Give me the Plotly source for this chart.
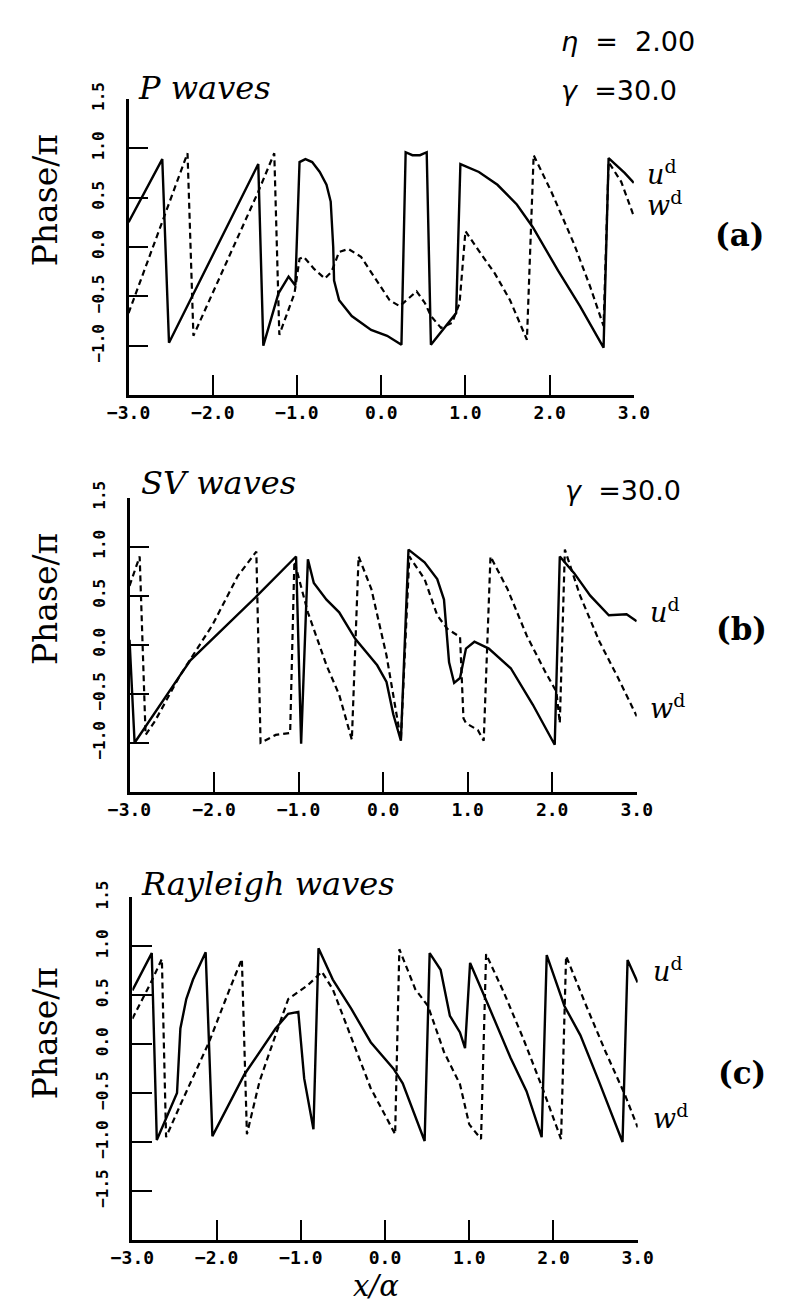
import plotly.graph_objects as go

# ---------------- data ----------------
x_ticks = [-3.0, -2.0, -1.0, 0.0, 1.0, 2.0, 3.0]
x_tick_labels = ["−3.0", "−2.0", "−1.0", "0.0", "1.0", "2.0", "3.0"]
y_ticks_ab = [-1.0, -0.5, 0.0, 0.5, 1.0, 1.5]
y_tick_labels_ab = ["−1.0", "−0.5", "0.0", "0.5", "1.0", "1.5"]
y_ticks_c = [-1.5, -1.0, -0.5, 0.0, 0.5, 1.0, 1.5]
y_tick_labels_c = ["−1.5", "−1.0", "−0.5", "0.0", "0.5", "1.0", "1.5"]

# Panel (a) P waves
pa_u_x = [-3.0, -2.60, -2.52, -1.46, -1.40, -1.22, -1.10, -1.02, -0.97, -0.90, -0.82, -0.73, -0.65, -0.60,
          -0.57, -0.56, -0.50, -0.35, -0.12, 0.07, 0.24, 0.29, 0.37, 0.46, 0.54, 0.59, 0.89, 0.94, 1.16,
          1.38, 1.61, 1.80, 2.10, 2.36, 2.64, 2.70, 2.89, 3.0]
pa_u_y = [0.25, 0.89, -0.97, 0.84, -1.00, -0.47, -0.30, -0.39, 0.86, 0.89, 0.86, 0.76, 0.63, 0.46,
          0.0, -0.34, -0.54, -0.70, -0.84, -0.90, -0.99, 0.96, 0.93, 0.93, 0.96, -0.99, -0.67, 0.84, 0.76,
          0.63, 0.43, 0.20, -0.24, -0.60, -1.02, 0.90, 0.75, 0.65]
pa_w_x = [-3.0, -2.30, -2.23, -1.46, -1.27, -1.21, -1.03, -0.97, -0.92, -0.80, -0.67,
          -0.59, -0.50, -0.39, -0.24, -0.05, 0.10, 0.22, 0.42, 0.52, 0.59, 0.71, 0.84, 0.93, 1.0, 1.16,
          1.35, 1.53, 1.73, 1.81, 2.02, 2.29, 2.48, 2.64, 2.70, 2.85, 3.0]
pa_w_y = [-0.67, 0.95, -0.90, 0.56, 0.95, -0.89, -0.47, -0.12, -0.10, -0.22, -0.32,
          -0.25, -0.05, -0.02, -0.10, -0.34, -0.54, -0.60, -0.45, -0.57, -0.70, -0.82, -0.77, -0.57, 0.16, -0.04,
          -0.27, -0.54, -0.94, 0.93, 0.56, 0.03, -0.40, -0.80, 0.86, 0.66, 0.31]

# Panel (b) SV waves
pb_u_x = [-3.0, -2.94, -2.40, -2.28, -1.49, -1.03, -0.97, -0.89, -0.82, -0.67, -0.52, -0.33, -0.07, 0.04,
          0.12, 0.21, 0.30, 0.49, 0.64, 0.72, 0.78, 0.84, 0.91, 0.98, 1.08, 1.25, 1.51, 1.77, 2.03, 2.09,
          2.26, 2.45, 2.67, 2.88, 3.0]
pb_u_y = [0.05, -1.0, -0.31, -0.16, 0.50, 0.90, -1.01, 0.87, 0.63, 0.46, 0.33, 0.06, -0.21, -0.38,
          -0.71, -0.98, 0.97, 0.84, 0.67, 0.46, -0.18, -0.39, -0.34, -0.04, 0.03, -0.04, -0.24, -0.61, -1.02, 0.90,
          0.73, 0.50, 0.30, 0.31, 0.24]
pb_w_x = [-3.0, -2.88, -2.81, -2.70, -2.40, -2.02, -1.72, -1.50, -1.45, -1.27, -1.10, -1.05, -0.89, -0.67,
          -0.52, -0.37, -0.29, -0.14, 0.04, 0.21, 0.31, 0.49, 0.64, 0.76, 0.91, 0.95, 0.98, 1.12, 1.19, 1.27,
          1.47, 1.70, 1.92, 2.05, 2.09, 2.15, 2.33, 2.56, 2.78, 3.0]
pb_w_y = [0.60, 0.90, -0.92, -0.78, -0.31, 0.20, 0.70, 0.95, -1.0, -0.92, -0.90, 0.85, 0.33, -0.21,
          -0.51, -0.97, 0.90, 0.57, -0.11, -0.97, 0.90, 0.67, 0.30, 0.16, 0.08, -0.75, -0.80, -0.87, -0.98, 0.90,
          0.57, 0.09, -0.28, -0.48, -0.80, 0.97, 0.50, 0.03, -0.34, -0.73]

# Panel (c) Rayleigh waves
pc_u_x = [-3.0, -2.77, -2.71, -2.47, -2.43, -2.36, -2.28, -2.13, -2.05, -1.67, -1.30, -1.15, -1.03, -0.96,
          -0.85, -0.79, -0.62, -0.40, -0.17, 0.10, 0.21, 0.36, 0.47, 0.53, 0.66, 0.77, 0.89, 0.95, 1.01,
          1.23, 1.49, 1.68, 1.86, 1.92, 2.13, 2.32, 2.54, 2.82, 2.88, 3.0]
pc_u_y = [0.55, 0.93, -0.98, -0.50, 0.16, 0.46, 0.66, 0.94, -0.94, -0.31, 0.16, 0.31, 0.33, -0.35,
          -0.87, 0.98, 0.66, 0.36, 0.02, -0.25, -0.40, -0.75, -0.99, 0.93, 0.76, 0.29, 0.12, -0.04, 0.83,
          0.39, -0.14, -0.48, -0.95, 0.91, 0.39, 0.09, -0.38, -1.0, 0.86, 0.63]
pc_w_x = [-3.0, -2.78, -2.65, -2.60, -2.43, -2.09, -1.86, -1.70, -1.64, -1.49, -1.37, -1.15, -0.92, -0.75,
          -0.62, -0.40, -0.17, 0.12, 0.17, 0.36, 0.51, 0.70, 0.89, 1.0, 1.14, 1.20, 1.41, 1.64, 1.87, 2.09,
          2.15, 2.39, 2.62, 2.85, 3.0]
pc_w_y = [0.26, 0.63, 0.87, -0.95, -0.62, 0.02, 0.53, 0.87, -0.92, -0.38, -0.08, 0.46, 0.60, 0.74,
          0.56, 0.06, -0.45, -0.92, 0.97, 0.56, 0.39, -0.08, -0.41, -0.82, -0.97, 0.92, 0.53, 0.06, -0.45, -0.97,
          0.90, 0.39, -0.08, -0.52, -0.85]

panel_titles = ["P waves", "SV waves", "Rayleigh waves"]
panel_letters = ["(a)", "(b)", "(c)"]
y_title = "Phase/π"
x_title = "x/α"

# ---------------- layout helpers ----------------
W, H = 785, 1304
def fx(p):
    return p / W
def fy(p):
    return 1 - p / H

panels = [
    dict(u=(pa_u_x, pa_u_y), w=(pa_w_x, pa_w_y), xd=(112, 643), yd=(83, 383), yr=(-1.5, 1.5),
         yt=(y_ticks_ab, y_tick_labels_ab)),
    dict(u=(pb_u_x, pb_u_y), w=(pb_w_x, pb_w_y), xd=(113, 646), yd=(487, 785), yr=(-1.5, 1.5),
         yt=(y_ticks_ab, y_tick_labels_ab)),
    dict(u=(pc_u_x, pc_u_y), w=(pc_w_x, pc_w_y), xd=(116, 647), yd=(892, 1239), yr=(-2.0, 1.5),
         yt=(y_ticks_c, y_tick_labels_c)),
]

fig = go.Figure()
xtickfont = dict(family="DejaVu Sans Mono", size=18, color="black", weight="bold")
ytickfont = dict(family="DejaVu Sans Mono", size=16, color="black", weight="bold")

for i, p in enumerate(panels):
    sfx = "" if i == 0 else str(i + 1)
    xa, ya = "x" + sfx, "y" + sfx
    fig.add_trace(go.Scatter(x=p["u"][0], y=p["u"][1], mode="lines", xaxis=xa, yaxis=ya,
                             line=dict(color="black", width=2.4), showlegend=False))
    fig.add_trace(go.Scatter(x=p["w"][0], y=p["w"][1], mode="lines", xaxis=xa, yaxis=ya,
                             line=dict(color="black", width=2.2, dash="6px,4px"), showlegend=False))
    xaxis = dict(domain=[fx(p["xd"][0]), fx(p["xd"][1])], range=[-3.0, 3.0], anchor=ya,
                 showline=True, linecolor="black", linewidth=2.5, mirror=False,
                 ticks="inside", ticklen=20, tickwidth=2, tickcolor="black",
                 tickvals=x_ticks, ticktext=x_tick_labels, tickfont=xtickfont,
                 showgrid=False, zeroline=False, ticklabelstandoff=0)
    yaxis = dict(domain=[fy(p["yd"][1]), fy(p["yd"][0])], range=list(p["yr"]), anchor=xa,
                 showline=True, linecolor="black", linewidth=2.5, mirror=False,
                 ticks="inside", ticklen=20, tickwidth=2, tickcolor="black",
                 tickvals=p["yt"][0], ticktext=p["yt"][1], tickfont=ytickfont, tickangle=-90,
                 showgrid=False, zeroline=False, ticklabelstandoff=15)
    fig.layout["xaxis" + sfx] = xaxis
    fig.layout["yaxis" + sfx] = yaxis

ann = []
serif = "DejaVu Serif"
sans = "DejaVu Sans"

def add(text, x, y, size, family, xanchor="left", yanchor="middle", angle=0, **kw):
    d = dict(text=text, x=fx(x), y=fy(y), xref="paper", yref="paper", showarrow=False,
             xanchor=xanchor, yanchor=yanchor, textangle=angle,
             font=dict(family=family, size=size, color="black"))
    d.update(kw)
    ann.append(d)

# top-right parameters
add("<i>η</i>\u00a0 =\u00a0 2.00", 564, 25, 27, sans)
add("<i>γ</i>\u00a0 =30.0", 564, 74, 27, sans)
add("<i>γ</i>\u00a0 =30.0", 568, 480, 27, sans)

# panel titles
add("<i>" + panel_titles[0] + "</i>", 120, 72, 32, serif)
add("<i>" + panel_titles[1] + "</i>", 123, 472, 32, serif)
add("<i>" + panel_titles[2] + "</i>", 123, 878, 32, serif)

# y titles
for yc in (186, 590, 1030):
    add(y_title, 25, yc, 33, serif, xanchor="center", angle=-90)

# panel letters
add("<b>" + panel_letters[0] + "</b>", 754, 221, 31, serif, xanchor="center")
add("<b>" + panel_letters[1] + "</b>", 756, 620, 31, serif, xanchor="center")
add("<b>" + panel_letters[2] + "</b>", 757, 1070, 31, serif, xanchor="center")

# series labels
for (xl, yu, yw) in ((655, 158, 189), (658, 601, 699), (661, 965, 1114)):
    add("<i>u</i><sup>d</sup>", xl, yu, 27, serif)
    add("<i>w</i><sup>d</sup>", xl, yw, 27, serif)

# x title
add("<i>" + x_title + "</i>", 372, 1304, 29, serif, xanchor="center", yanchor="bottom",
    borderpad=0)

fig.update_layout(width=W, height=H, margin=dict(l=0, r=0, t=0, b=0),
                  paper_bgcolor="white", plot_bgcolor="white", annotations=ann,
                  showlegend=False)

fig.write_html("out.html")
